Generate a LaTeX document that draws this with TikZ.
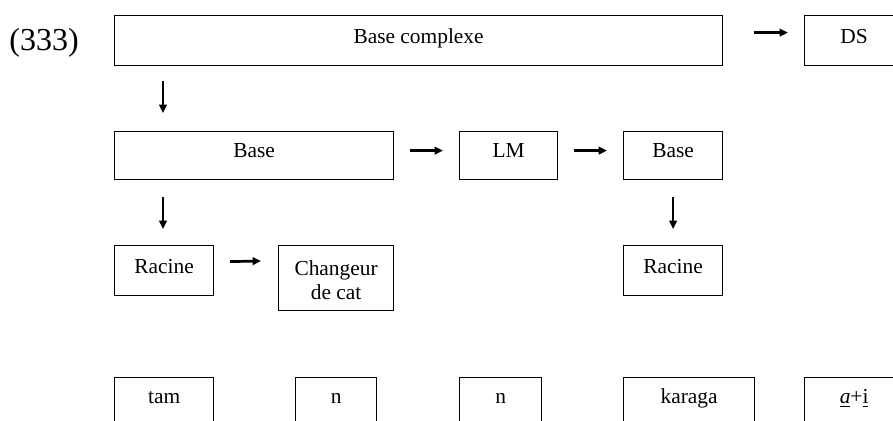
\documentclass[tikz,border=0pt]{standalone}
\usepackage{fontspec}
\setmainfont{Liberation Serif}
\usetikzlibrary{arrows.meta}
\begin{document}
\begin{tikzpicture}[x=0.5pt,y=-0.5pt,
  box/.style={draw,line width=0.6pt,rectangle,inner xsep=0pt,inner ysep=0pt,
    anchor=north west,font=\fontsize{10.7}{12}\selectfont},
  rowa/.style={text height=14pt,text depth=11pt},
  rowb/.style={text height=13pt,text depth=11pt},
  rowc/.style={text height=14pt,text depth=11pt},
  rowd/.style={text height=13pt,text depth=22pt},
  arr/.style={line width=1.35pt,-{Triangle[length=4.2pt,width=3.8pt]}}]
\useasboundingbox (0,0) rectangle (893,421);
\clip (0,0) rectangle (893,421);
% label
\node[anchor=base west,inner sep=0pt,font=\fontsize{16}{18}\selectfont] (num) at (9,51) {(333)};
% row 1
\node[box,rowa,minimum width=304pt] (bc) at (114,15) {Base complexe};
\node[box,rowa,minimum width=49.5pt] (ds) at (804,15) {DS};
% row 2
\node[box,rowb,minimum width=139.5pt] (base1) at (114,131) {Base};
\node[box,rowb,minimum width=49pt] (lm) at (459,131) {LM};
\node[box,rowb,minimum width=49.5pt] (base2) at (623,131) {Base};
% row 3
\node[box,rowc,minimum width=49.5pt] (rac1) at (114,245) {Racine};
\node[box,align=center,minimum width=57.5pt,
  text height=27pt,text depth=5.5pt] (chg) at (278,245) {Changeur\\de cat};
\node[box,rowc,minimum width=49.5pt] (rac2) at (623,245) {Racine};
% row 4
\node[box,rowd,minimum width=49.5pt] (tam) at (114,377) {tam};
\node[box,rowd,minimum width=40.5pt] (n1) at (295,377) {n};
\node[box,rowd,minimum width=41pt] (n2) at (459,377) {n};
\node[box,rowd,minimum width=65.5pt] (kar) at (623,377) {karaga};
\node[box,rowd,minimum width=49.5pt] (ai) at (804,377) {\underline{\textit{a}}+\underline{i}};
% arrows
\draw[arr] ([shift={(31,-8)}]bc.east) -- ([shift={(-16,-8)}]ds.west);
\draw[arr] ([shift={(49,15)}]bc.south west) -- ([shift={(49,-18)}]base1.north west);
\draw[arr] ([shift={(16,-5)}]base1.east) -- ([shift={(-16,-5)}]lm.west);
\draw[arr] ([shift={(16,-5)}]lm.east) -- ([shift={(-16,-5)}]base2.west);
\draw[arr] ([shift={(49,17)}]base1.south west) -- ([shift={(49,-16)}]rac1.north west);
\draw[arr] ([shift={(0,17)}]base2.south) -- ([shift={(0,-16)}]rac2.north);
\draw[arr] ([shift={(16,-9)}]rac1.east) -- ([shift={(-17,16)}]chg.north west);
\end{tikzpicture}
\end{document}
